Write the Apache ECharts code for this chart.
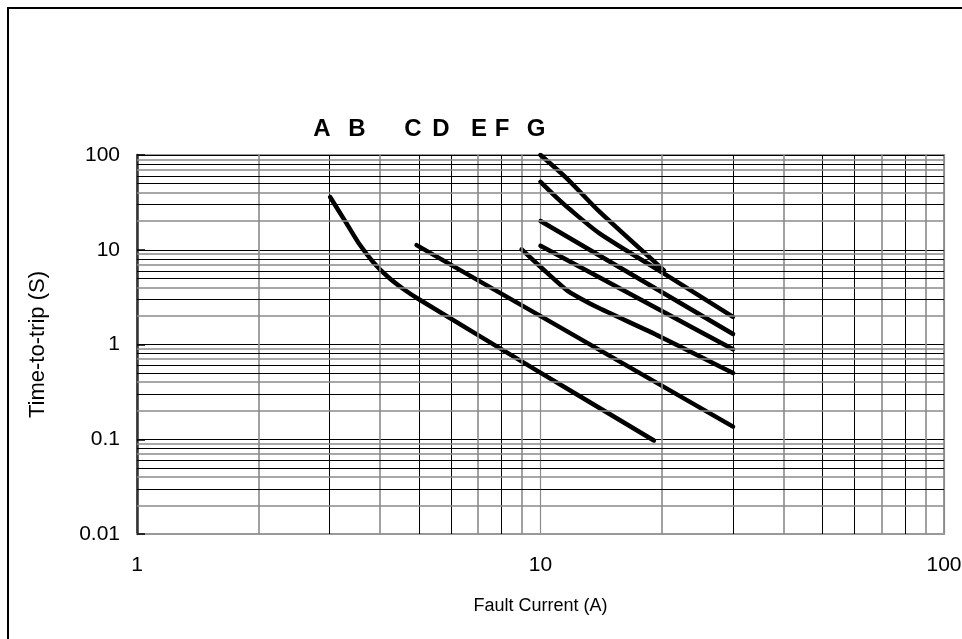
<!DOCTYPE html>
<html>
<head>
<meta charset="utf-8">
<script src="https://cdn.jsdelivr.net/npm/echarts@6/dist/echarts.min.js"></script>
<style>
html,body{margin:0;padding:0;background:#fff;}
#chart{width:962px;height:639px;}
</style>
</head>
<body>
<div id="chart"></div>
<script>
// ---- data (Fault Current A, Time-to-trip S) ----
const curveA = [[3.01,36],[3.30,19.2],[3.57,11.2],[3.85,7.4],[4.19,5.16],[4.59,3.81],[5.03,2.95],[9.8,0.53],[19.1,0.097]];
const curveB = [[4.93,11.2],[10.36,1.83],[30,0.136]];
const curveC = [[8.98,10.1],[10.07,6.42],[11.6,3.76],[12.5,3.1],[14.0,2.41],[19.8,1.21],[30,0.5]];
const curveD = [[10,11],[20.2,2.2],[30,0.89]];
const curveE = [[10,20.1],[20.2,3.47],[30,1.29]];
const curveF = [[10,52],[10.8,37.8],[11.8,26.9],[14.0,14.9],[20.1,5.7],[30,1.96]];
const curveG = [[10,100],[11.6,57],[14.0,25.2],[20.2,6.1]];
const curveNames = ['A','B','C','D','E','F','G'];
const xMinor = [2,3,4,5,6,7,8,9,20,30,40,50,60,70,80,90];
const yMinor = [0.02,0.03,0.04,0.05,0.06,0.07,0.08,0.09,0.2,0.3,0.4,0.5,0.6,0.7,0.8,0.9,2,3,4,5,6,7,8,9,20,30,40,50,60,70,80,90];
const grayDigits = [2,4,7,9];

const chart = echarts.init(document.getElementById('chart'));
const FONT = 'Liberation Sans, Arial, sans-serif';

function leadDigit(v){ return Math.round(v / Math.pow(10, Math.floor(Math.log10(v)+1e-9))); }
function gridStyle(v){
  return grayDigits.indexOf(leadDigit(v)) >= 0
    ? {color:'#8a8a8a', width:1.6, type:'solid'}
    : {color:'#000', width:1, type:'solid'};
}
const gridLines = [];
xMinor.forEach(v => gridLines.push({xAxis:v, lineStyle:gridStyle(v)}));
yMinor.forEach(v => gridLines.push({yAxis:v, lineStyle:gridStyle(v)}));

const curves = [curveA,curveB,curveC,curveD,curveE,curveF,curveG];
const series = [{
  type:'line', data:[], silent:true,
  markLine:{silent:true, symbol:['none','none'], label:{show:false}, animation:false, data:gridLines}
}];
curves.forEach((c,i)=>{
  series.push({
    name:curveNames[i], type:'line', data:c, smooth:0.25, showSymbol:false, silent:true,
    lineStyle:{color:'#000', width:4.5, cap:'round', join:'round'}, animation:false
  });
});

const labelX = [322,357,413,441,479,502,536];
const graphics = [{
  type:'rect', shape:{x:8,y:8,width:1000,height:700}, style:{fill:'none', stroke:'#000', lineWidth:2}, silent:true
}];
curveNames.forEach((n,i)=>{
  graphics.push({type:'text', x:labelX[i], y:129, style:{text:n, font:'bold 24px '+FONT, fill:'#000', align:'center', verticalAlign:'middle'}});
});

chart.setOption({
  animation:false,
  backgroundColor:'#fff',
  grid:{left:137, right:18, top:155, bottom:105, show:true, borderColor:'#999', borderWidth:2, backgroundColor:'transparent',
        containLabel:false, outerBoundsMode:'none'},
  xAxis:{
    type:'log', logBase:10, min:1, max:100,
    name:'Fault Current (A)', nameLocation:'middle', nameGap:63,
    nameTextStyle:{fontFamily:FONT, fontSize:18, color:'#000'},
    axisLine:{show:true, lineStyle:{color:'#999', width:2}},
    axisTick:{show:false},
    axisLabel:{fontFamily:FONT, fontSize:21, color:'#000', margin:21},
    splitLine:{show:true, lineStyle:{color:'#8a8a8a', width:1.2}},
    minorTick:{show:false}, minorSplitLine:{show:false}
  },
  yAxis:{
    type:'log', logBase:10, min:0.01, max:100,
    name:'Time-to-trip (S)', nameLocation:'middle', nameGap:88, nameRotate:90,
    nameTextStyle:{fontFamily:FONT, fontSize:22, color:'#000'},
    axisLine:{show:true, lineStyle:{color:'#333', width:2.5}},
    axisTick:{show:true, inside:true, length:8, lineStyle:{color:'#000', width:1.5}},
    axisLabel:{fontFamily:FONT, fontSize:21, color:'#000', margin:17,
      formatter:v=>String(+v.toPrecision(6))},
    splitLine:{show:true, lineStyle:{color:'#000', width:1.2}}
  },
  graphic:graphics,
  series:series
});
</script>
</body>
</html>
